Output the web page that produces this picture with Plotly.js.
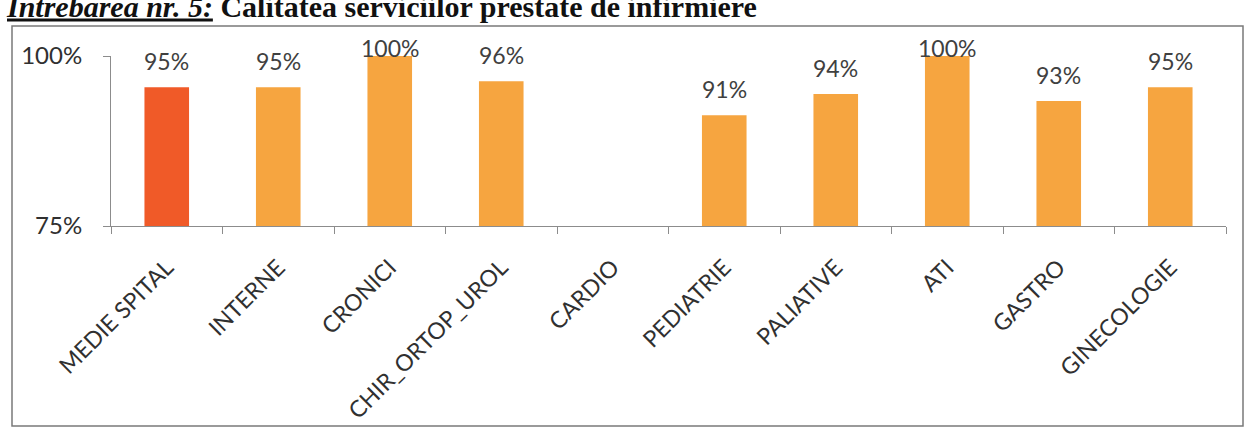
<!DOCTYPE html>
<html>
<head>
<meta charset="utf-8">
<script src="https://cdn.plot.ly/plotly-3.0.1.min.js"></script>
<style>
html,body{margin:0;padding:0;background:#fff;}
#chart{width:1252px;height:431px;}
</style>
</head>
<body>
<div id="chart"></div>
<script>
const categories = ['MEDIE SPITAL','INTERNE','CRONICI','CHIR_ORTOP_UROL','CARDIO','PEDIATRIE','PALIATIVE','ATI','GASTRO','GINECOLOGIE'];
const values = [95.4, 95.4, 100, 96.3, null, 91.3, 94.4, 100, 93.4, 95.4];
const valueLabels = ['95%','95%','100%','96%','','91%','94%','100%','93%','95%'];
const barColors = ['#F05A28','#F6A540','#F6A540','#F6A540','#F6A540','#F6A540','#F6A540','#F6A540','#F6A540','#F6A540'];
const axisMin = 75, axisMax = 100;
const yTickVals = [75, 100];
const yTickText = ['75%', '100%'];

const bars = {
  type: 'bar',
  x: categories,
  base: axisMin,
  y: values.map(v => v === null ? null : v - axisMin),
  marker: {color: barColors},
  hoverinfo: 'none'
};

// data labels above each bar, kept near the top of the chart for full bars (as Excel does)
const labelOffset = 3.8, labelCap = axisMax + 1.2;
const labelAnnotations = [];
values.forEach((v, i) => {
  if (v === null || !valueLabels[i]) return;
  const yVal = Math.min(v + labelOffset, labelCap);
  labelAnnotations.push({
    x: categories[i], xref: 'x',
    y: (yVal - axisMin) / (axisMax - axisMin), yref: 'paper',
    text: valueLabels[i], showarrow: false,
    xanchor: 'center', yanchor: 'middle',
    font: {family: 'Lato, "Open Sans", sans-serif', size: 23, color: '#404040'}
  });
});

const L = 111, R = 1226, T = 56, B = 226;
const px = x => (x - L) / (R - L);
const py = y => (B - y) / (B - T);

const layout = {
  width: 1252, height: 431,
  margin: {l: L, r: 1252 - R, t: T, b: 431 - B},
  paper_bgcolor: '#ffffff',
  plot_bgcolor: '#ffffff',
  showlegend: false,
  bargap: 0.6,
  title: {
    text: '<i><span style="text-decoration:underline">Intrebarea nr. 5:</span></i> Calitatea serviciilor prestate de infirmiere',
    font: {family: '"Liberation Serif", "Times New Roman", serif', size: 30, color: '#111', weight: 'bold'},
    x: 7/1252, xref: 'container', xanchor: 'left',
    y: 1 - 6/431, yref: 'container', yanchor: 'middle',
    pad: {l: 0, t: 0, r: 0, b: 0}
  },
  xaxis: {
    type: 'category',
    tickangle: -45,
    tickson: 'boundaries',
    ticks: 'outside', ticklen: 7, tickcolor: '#8c8c8c',
    ticklabelstandoff: 18,
    showline: true, linecolor: '#8c8c8c', linewidth: 1,
    showgrid: false, zeroline: false,
    tickfont: {family: 'Lato, "Open Sans", sans-serif', size: 23, color: '#303030'},
    fixedrange: true
  },
  yaxis: {
    range: [axisMin, axisMax],
    tickvals: yTickVals,
    ticktext: yTickText,
    ticks: 'outside', ticklen: 7, tickcolor: '#8c8c8c',
    ticklabelstandoff: 16,
    showline: true, linecolor: '#8c8c8c', linewidth: 1,
    showgrid: false, zeroline: false,
    tickfont: {family: 'Lato, "Open Sans", sans-serif', size: 24, color: '#303030'},
    fixedrange: true
  },
  annotations: labelAnnotations,
  shapes: [{
    type: 'rect', xref: 'paper', yref: 'paper',
    x0: px(12), x1: px(1243), y0: py(426), y1: py(26),
    line: {color: '#7a7a7a', width: 1.5},
    fillcolor: 'rgba(0,0,0,0)', layer: 'below'
  }]
};

Plotly.newPlot('chart', [bars], layout, {staticPlot: true, displayModeBar: false});
</script>
</body>
</html>
